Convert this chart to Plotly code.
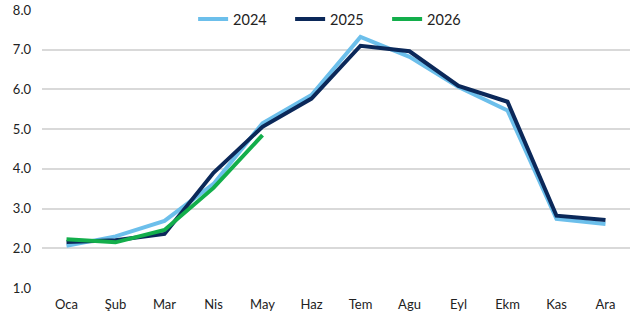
import plotly.graph_objects as go

months = ["Oca", "Şub", "Mar", "Nis", "May", "Haz", "Tem", "Agu", "Eyl", "Ekm", "Kas", "Ara"]
v2024 = [2.06, 2.30, 2.69, 3.62, 5.15, 5.86, 7.32, 6.82, 6.06, 5.47, 2.74, 2.61]
v2025 = [2.16, 2.20, 2.36, 3.90, 5.06, 5.77, 7.10, 6.96, 6.09, 5.69, 2.82, 2.71]
v2026 = [2.23, 2.15, 2.46, 3.52, 4.85]

fig = go.Figure()
fig.add_trace(go.Scatter(x=months, y=v2024, name="2024", mode="lines",
                         line=dict(color="#6CBFEB", width=4)))
fig.add_trace(go.Scatter(x=months, y=v2025, name="2025", mode="lines",
                         line=dict(color="#0B2859", width=4)))
fig.add_trace(go.Scatter(x=months[:len(v2026)], y=v2026, name="2026", mode="lines",
                         line=dict(color="#13AE4B", width=4)))

fig.update_layout(
    width=638, height=319,
    margin=dict(l=42, r=8, t=10, b=31, autoexpand=False),
    paper_bgcolor="white", plot_bgcolor="white",
    font=dict(family="Lato, sans-serif", size=13, color="#222222"),
    legend=dict(orientation="h", x=0.257, xanchor="left", y=0.967, yanchor="middle",
                bgcolor="rgba(0,0,0,0)", font=dict(size=14.5),
                entrywidth=52, entrywidthmode="pixels", tracegroupgap=0),
    showlegend=True,
)
fig.update_xaxes(type="category", categoryorder="array", categoryarray=months,
                 showgrid=False, showline=False, zeroline=False, ticks="",
                 range=[-0.5, 11.5], tickfont=dict(size=13), ticklabelstandoff=7)
fig.update_yaxes(range=[1, 8], dtick=1, tick0=1, tickformat=".1f",
                 showgrid=True, gridcolor="#D9D9D9", gridwidth=1.5,
                 zeroline=False, showline=False, ticks="", ticklabelstandoff=10,
                 tickfont=dict(size=13))

fig.write_html("out.html", config={"displayModeBar": False},
               post_script="document.body.style.margin='0';")
